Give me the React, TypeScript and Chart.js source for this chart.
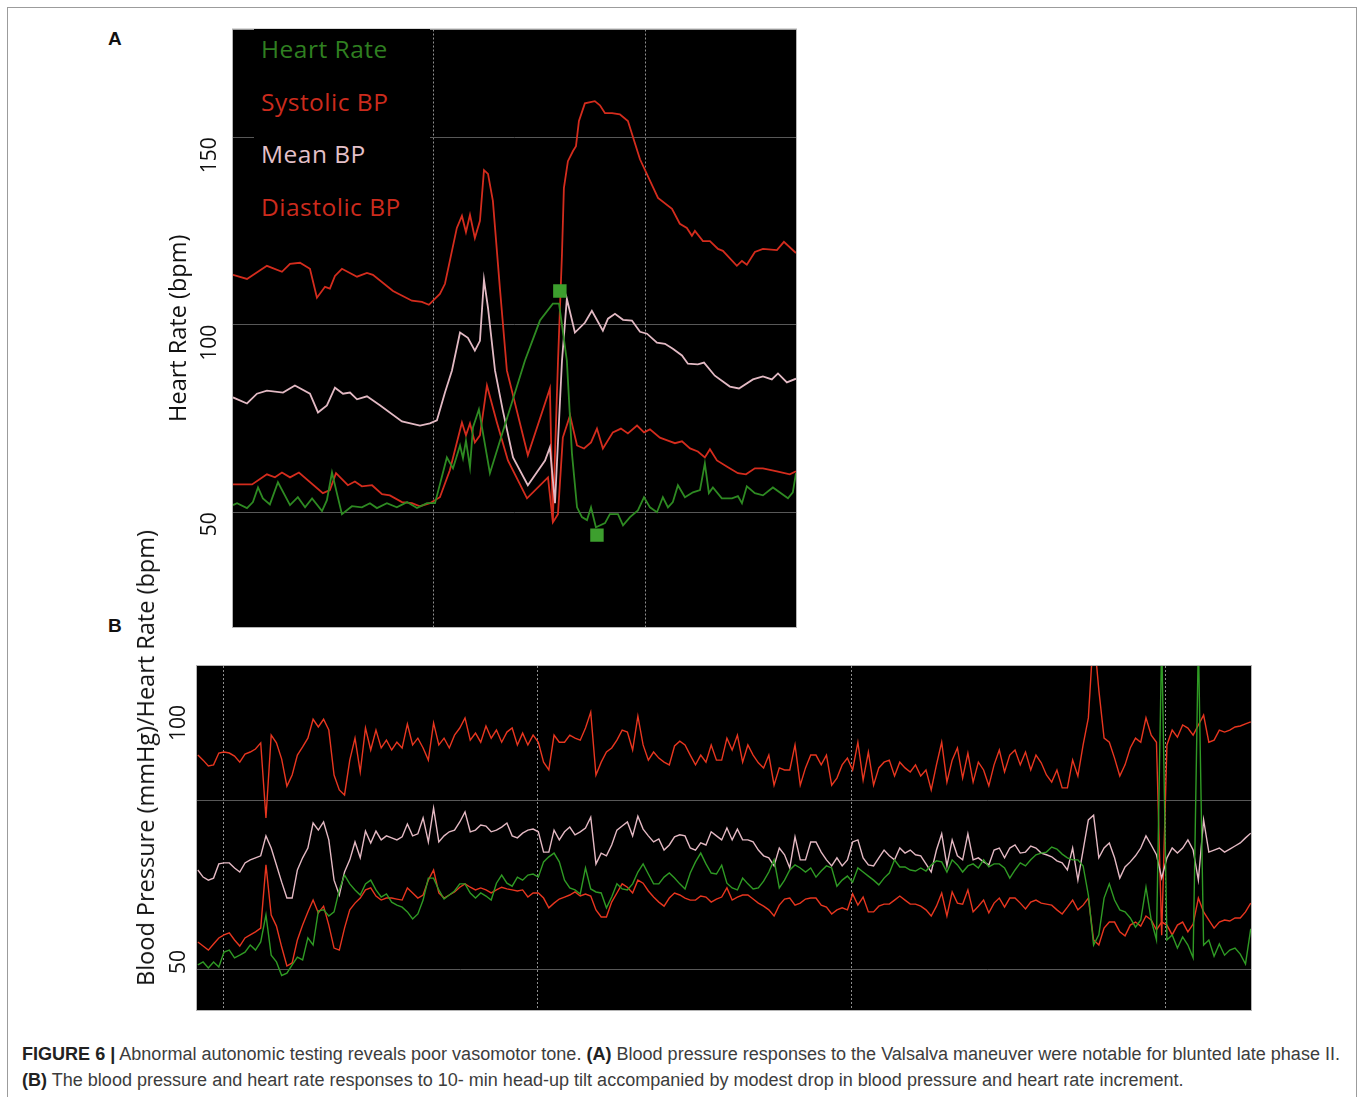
import React, { useEffect, useLayoutEffect, useRef } from 'react';
import { Chart, registerables } from 'chart.js';

Chart.register(...registerables);

// ---------------- Panel A : Valsalva manoeuvre (time in s) ----------------
const aGridTimes = [10, 20];
const aYTicks = [50, 100, 150];

const aSysT = [0.52,1.18,2.12,2.83,3.21,3.68,4.15,4.48,4.86,5.09,5.33,5.66,6.37,6.84,7.12,8.07,8.96,9.43,9.76,10.28,10.52,11.08,11.32,11.51,11.70,11.93,12.17,12.36,12.55,12.78,13.11,13.44,14.43,15.47,15.61,15.85,16.04,16.13,16.32,16.56,16.70,16.84,17.12,17.59,17.83,18.07,18.40,18.77,19.15,19.72,20.57,21.23,21.60,21.93,22.17,22.31,22.69,23.02,23.40,23.63,24.29,24.53,24.76,25.14,25.52,26.18,26.51,27.08];
const aSysV = [113.3,112.2,115.7,114.1,116.2,116.5,114.9,107.2,110.1,109.6,113.0,114.9,112.8,113.8,113.3,109.0,106.4,106.1,105.3,108.2,110.9,125.8,129.0,124.7,129.3,123.1,127.7,141.2,140.2,133.0,109.8,87.8,65.2,83.0,47.9,89.9,118.9,136.4,143.6,146.3,147.6,154.3,159.0,159.6,158.5,156.4,156.4,156.1,154.3,144.1,133.8,130.9,126.9,125.8,123.7,125.0,122.3,122.3,120.2,119.7,115.7,117.0,116.0,119.4,120.2,119.9,122.1,119.1];

const aMeanT = [0.52,1.18,1.65,2.12,2.88,3.44,4.15,4.53,4.95,5.33,5.71,6.04,6.37,6.84,7.45,8.49,9.34,9.81,10.14,10.52,10.85,11.23,11.60,11.93,12.17,12.36,12.55,12.88,13.25,13.73,14.43,15.24,15.47,15.71,16.04,16.27,16.65,17.12,17.45,17.97,18.21,18.54,18.92,19.34,19.72,20.05,20.52,20.90,21.27,21.70,21.98,22.45,22.74,23.25,23.96,24.39,25.05,25.52,25.94,26.23,26.65,27.08];
const aMeanV = [80.6,79.0,81.6,82.4,81.9,83.8,81.6,76.6,78.5,83.2,81.6,81.9,80.1,80.9,78.5,74.2,73.1,73.7,74.5,81.9,87.8,97.9,96.5,93.1,95.7,112.0,104.5,87.8,77.1,64.6,57.2,63.8,67.3,52.4,90.4,106.9,97.9,100.5,103.7,98.4,101.6,102.9,101.3,101.1,98.1,97.6,95.2,94.9,93.6,91.8,89.6,89.4,89.9,86.4,83.5,83.0,85.4,86.2,85.4,87.0,84.6,85.6];

const aDiaT = [0.52,1.42,2.12,2.50,2.83,3.21,3.63,4.76,5.09,5.38,5.94,6.27,6.60,7.08,7.55,7.92,8.49,8.96,9.34,9.81,10.28,10.75,11.32,11.51,11.70,11.93,12.17,12.50,12.97,13.49,14.39,15.38,15.61,15.85,16.08,16.42,16.75,17.08,17.41,17.69,17.97,18.44,18.82,19.15,19.58,19.91,20.19,20.66,21.04,21.37,21.70,22.08,22.45,22.78,23.02,23.35,23.87,24.34,24.72,25.14,25.52,26.18,26.79,27.08];
const aDiaV = [57.4,57.4,60.1,59.3,60.6,59.3,60.6,55.1,55.9,60.4,57.2,58.2,56.9,57.2,54.8,54.5,52.7,52.4,51.6,52.4,54.0,61.2,73.9,70.5,73.7,68.6,70.5,83.8,73.9,63.8,53.7,59.3,47.3,49.5,69.9,75.8,67.8,67.0,68.6,72.3,67.0,71.3,72.3,71.0,73.1,71.3,72.1,69.9,69.1,68.4,68.9,67.0,66.2,64.6,66.8,63.8,62.0,60.4,60.1,61.7,61.7,60.9,60.1,60.9];

const aHrT = [0.52,0.71,1.18,1.46,1.70,1.93,2.26,2.64,3.21,3.58,3.92,4.25,4.72,4.95,5.19,5.42,5.66,6.13,6.60,6.98,7.31,7.78,8.25,8.73,9.20,9.67,10.05,10.61,10.90,11.23,11.37,11.51,11.70,11.84,12.12,12.64,14.29,15.00,15.61,15.90,16.27,16.51,16.75,16.98,17.22,17.41,17.64,18.07,18.30,18.68,18.92,19.25,19.62,19.91,20.19,20.52,20.80,21.04,21.27,21.51,21.84,22.22,22.55,22.78,22.97,23.16,23.58,24.06,24.34,24.53,24.76,25.14,25.52,25.99,26.70,26.93,27.08];
const aHrV = [51.9,52.4,51.1,52.7,56.6,53.7,52.1,58.0,51.9,54.0,51.3,53.7,50.3,53.2,60.6,55.1,49.5,51.6,51.3,52.4,51.1,52.4,51.3,52.7,51.1,52.4,52.4,64.6,61.7,67.8,64.4,69.1,62.0,72.6,77.4,60.4,90.4,101.1,105.6,105.6,90.4,65.7,51.3,48.7,47.9,51.3,46.0,47.1,49.5,49.5,46.5,48.7,50.5,54.0,51.3,50.0,54.0,51.3,52.7,57.2,54.0,55.3,55.9,63.0,55.1,56.6,53.7,53.7,54.3,52.4,56.9,55.1,54.5,56.6,53.7,55.3,60.4];

const aMarkT = [15.94, 17.69];
const aMarkV = [109.0, 43.9];

const legendItems = [
  { text: 'Heart Rate', color: '#2f7f20' },
  { text: 'Systolic BP', color: '#cc2b1d' },
  { text: 'Mean BP', color: '#e4c0c9' },
  { text: 'Diastolic BP', color: '#cc2b1d' },
];

// ---------------- Panel B : head-up tilt (time in s, one sample / 2.5 s) ----------------
const bGridTimes = [150, 300, 450, 600];
const bYGrid = [50, 100];
const bYLabels = [50, 100];
const bStart = 138;
const bStep = 2.5;

const bSystolic = [113.5,112.0,110.3,110.6,114.1,114.4,114.1,113.2,111.4,113.8,
114.4,115.3,117.1,94.9,119.4,117.1,112.3,104.3,107.6,113.5,
115.9,118.5,124.1,121.8,124.1,120.9,107.6,103.2,101.7,112.0,
118.5,108.5,121.5,115.0,120.9,115.6,117.9,115.0,117.3,115.6,
122.7,116.5,118.5,115.6,112.0,123.0,116.5,118.5,115.6,119.4,
121.5,124.5,117.9,120.0,117.3,122.1,118.5,120.9,117.3,120.3,
121.5,116.5,120.0,116.5,119.4,117.3,111.4,109.1,119.4,117.3,
117.3,119.4,118.5,117.9,121.5,126.2,107.6,111.4,114.4,115.6,
117.9,120.9,120.3,115.0,125.0,116.5,112.0,114.4,112.6,111.4,
110.6,116.2,117.6,116.5,113.5,110.6,113.5,111.4,116.5,112.0,
112.0,118.5,115.0,119.4,111.4,116.5,113.5,111.2,109.7,113.5,
104.6,109.7,109.1,109.1,116.5,104.6,109.7,113.5,113.5,110.6,
113.5,104.6,106.7,110.6,112.6,109.1,117.3,106.1,114.4,104.6,
109.7,111.4,112.0,107.3,111.4,109.7,108.5,110.6,107.3,109.1,
103.2,110.6,117.3,105.5,112.0,115.6,106.7,114.1,105.5,111.4,
109.1,104.4,110.6,115.0,108.5,113.5,115.0,110.6,114.4,109.1,
113.5,111.2,107.6,105.5,109.1,103.8,103.8,112.0,107.3,116.5,
124.5,150.0,132.7,118.5,117.3,112.6,107.3,110.6,115.6,118.5,
117.3,124.5,119.4,117.3,60.2,116.5,120.9,118.8,122.4,121.5,
119.4,122.4,125.3,117.3,117.9,120.9,120.3,120.9,121.8,122.1,
122.7,123.3];

const bMean = [79.5,77.4,76.5,77.1,81.3,81.6,81.6,80.1,78.9,81.6,
82.5,83.1,83.7,89.6,86.0,81.0,75.9,71.2,71.2,79.5,
83.1,86.0,93.4,91.3,93.7,88.4,76.5,72.1,78.9,82.5,
87.8,83.1,91.0,87.5,91.0,88.4,89.6,89.0,88.4,89.3,
93.1,89.6,90.2,94.9,87.8,97.8,87.8,89.6,90.8,91.3,
93.7,96.7,90.8,91.3,92.8,92.5,90.8,91.3,92.2,93.4,
89.6,89.0,90.4,91.3,91.6,90.8,84.8,84.8,91.3,88.4,
90.8,92.2,89.9,90.8,91.9,95.1,81.3,84.5,83.7,86.9,
91.3,92.5,93.7,89.6,95.4,91.6,89.6,87.8,88.7,85.4,
86.9,89.3,89.9,89.6,86.0,85.4,87.5,86.9,90.8,89.6,
88.4,91.9,88.4,91.6,88.4,88.4,87.8,85.4,83.7,83.1,
80.7,86.0,84.0,80.1,89.3,82.5,82.5,87.8,87.8,84.8,
82.5,80.7,83.1,80.7,82.5,87.8,88.4,83.1,81.0,80.7,
83.1,85.4,83.7,82.5,86.0,84.5,85.4,84.0,83.7,81.3,
78.9,85.4,90.2,80.7,88.4,83.7,82.5,90.2,82.5,83.1,
81.9,81.0,85.4,86.0,83.1,86.0,86.9,84.5,84.8,86.6,
86.0,84.5,84.0,83.4,82.2,81.6,79.5,86.0,76.5,85.4,
94.3,95.7,83.1,86.0,87.5,83.1,77.1,80.4,81.9,83.7,
86.0,89.6,86.9,84.0,77.1,83.1,86.0,84.5,86.0,88.4,
85.4,76.5,94.3,84.8,85.4,86.0,84.8,85.7,86.6,87.5,
89.0,90.4];

const bDiastolic = [58.2,57.0,55.8,57.6,59.4,60.3,60.9,58.8,57.0,59.4,
60.3,61.2,62.3,81.0,66.2,62.9,56.7,51.1,52.0,58.8,
63.2,67.1,70.6,66.8,68.8,63.2,56.4,55.8,62.3,67.7,
69.7,71.2,73.6,74.2,71.8,70.6,71.2,71.2,70.9,70.6,
74.2,72.7,71.2,72.1,76.5,79.5,72.7,71.2,72.1,73.0,
74.4,75.4,74.4,73.6,74.2,73.6,72.7,73.6,74.4,73.9,
73.6,73.3,73.6,71.5,72.7,72.7,71.2,68.3,69.7,70.9,
71.5,72.1,73.0,71.8,72.4,71.8,67.7,65.6,65.6,70.0,
72.7,75.4,74.4,72.7,76.5,75.6,73.3,71.5,70.0,68.8,
71.2,72.7,72.1,71.2,70.6,70.6,71.8,71.5,70.0,70.9,
71.5,74.2,70.6,71.5,72.1,72.1,70.9,69.7,68.8,67.7,
65.9,69.1,70.9,71.2,69.1,69.7,70.9,71.2,71.2,69.1,
68.5,66.5,67.7,68.3,67.7,72.4,69.1,71.5,67.1,67.1,
68.8,69.4,69.4,70.6,71.8,70.6,69.4,69.4,68.8,67.7,
65.9,68.8,72.7,65.9,73.0,69.7,69.4,73.6,67.1,68.8,
70.6,66.8,69.7,71.2,68.5,71.2,71.2,69.7,68.0,70.0,
70.6,69.7,69.4,69.1,67.7,66.5,68.5,70.6,67.7,69.1,
71.2,58.8,57.3,62.3,64.1,64.1,61.2,60.0,63.2,64.1,
62.9,65.9,64.7,61.8,64.1,63.2,60.3,63.2,64.1,61.2,
63.5,71.2,67.1,64.7,62.3,64.1,64.7,64.4,65.3,65.3,
67.1,69.7];

const bHeartRate = [51.4,52.3,50.5,52.3,50.8,55.2,55.8,53.5,54.3,55.2,
57.3,55.8,58.2,66.2,54.3,52.3,48.3,49.0,51.4,53.7,
52.9,59.4,57.3,67.4,67.7,65.9,67.1,73.6,78.0,75.4,
73.6,72.1,75.4,76.5,73.6,71.5,72.4,70.0,69.1,68.5,
67.1,65.0,66.5,70.6,77.1,77.1,73.6,70.9,72.1,73.3,
75.4,75.4,72.7,71.2,72.7,71.8,70.6,75.6,78.0,75.6,
74.7,77.4,76.5,78.0,78.3,77.4,81.9,83.4,84.5,81.9,
76.5,74.2,73.6,72.4,80.1,73.9,73.0,72.7,68.3,71.5,
75.4,73.9,73.6,75.4,78.9,81.3,78.3,75.4,75.4,77.4,
78.6,77.1,75.4,73.9,78.6,81.9,84.5,81.3,78.6,78.3,
80.9,75.6,74.2,73.6,77.1,75.4,73.9,74.2,76.2,78.9,
82.5,74.2,76.5,79.5,81.0,80.1,78.9,80.1,77.4,79.2,
80.7,80.1,74.7,76.5,77.7,75.9,80.1,78.9,77.7,76.5,
75.1,77.1,78.6,82.5,80.4,80.4,79.5,79.2,80.1,79.2,
81.0,82.2,81.9,78.9,82.5,81.0,78.9,80.7,81.3,80.1,
82.5,80.4,81.3,81.3,80.1,77.1,79.5,81.6,80.7,82.5,
84.0,84.5,84.8,86.3,85.7,84.2,83.1,82.5,82.5,80.7,
72.1,57.3,60.3,71.2,75.4,70.6,67.7,67.1,65.3,62.6,
64.7,74.4,64.7,58.8,147.5,58.8,60.3,56.4,59.7,57.3,
53.5,147.5,57.3,58.8,54.0,57.6,54.3,55.8,56.4,54.6,
51.7,62.1];

// ---------------- helpers ----------------
const FONT = "'Open Sans', 'DejaVu Sans', sans-serif";
const A_RED = '#d42c1d';
const A_PINK = '#e2b9c3';
const A_GREEN = '#2e8a22';
const B_RED = '#e8361f';
const B_PINK = '#e4b9c3';
const B_GREEN = '#2f9a24';

const toXY = (t: number[], v: number[]) => t.map((x, i) => ({ x, y: v[i] }));
const bTimes = bSystolic.map((_, i) => bStart + bStep * i);

const lineSet = (label: string, data: any[], color: string, width: number) => ({
  label,
  data,
  borderColor: color,
  backgroundColor: color,
  borderWidth: width,
  pointRadius: 0,
  tension: 0,
  fill: false,
});

const fixedTicks = (values: number[]) => (scale: any) => {
  scale.ticks = values.map((value) => ({ value }));
};

const fixWidth = (w: number) => (scale: any) => {
  scale.width = w;
  scale.paddingTop = 0;
  scale.paddingBottom = 0;
  scale.paddingLeft = 0;
  scale.paddingRight = 0;
};

const plotFrame = {
  id: 'plotFrame',
  beforeDraw(chart: any) {
    const { ctx, chartArea } = chart;
    ctx.save();
    ctx.fillStyle = '#000';
    ctx.fillRect(chartArea.left, chartArea.top, chartArea.right - chartArea.left, chartArea.bottom - chartArea.top);
    ctx.restore();
  },
  afterDraw(chart: any) {
    const { ctx, chartArea } = chart;
    ctx.save();
    ctx.strokeStyle = '#b4b4b4';
    ctx.lineWidth = 1;
    ctx.strokeRect(chartArea.left - 0.5, chartArea.top - 0.5, chartArea.right - chartArea.left + 1, chartArea.bottom - chartArea.top + 1);
    ctx.restore();
  },
};

function PanelA() {
  const ref = useRef<HTMLCanvasElement>(null);
  useEffect(() => {
    const chart = new Chart(ref.current as HTMLCanvasElement, {
      type: 'line',
      data: {
        datasets: [
          {
            label: 'HR events',
            data: toXY(aMarkT, aMarkV),
            showLine: false,
            pointStyle: 'rect',
            pointRadius: 9.5,
            pointBackgroundColor: '#3d9f2e',
            pointBorderWidth: 0,
            borderWidth: 0,
          } as any,
          lineSet('Heart Rate', toXY(aHrT, aHrV), A_GREEN, 1.8),
          lineSet('Mean BP', toXY(aMeanT, aMeanV), A_PINK, 1.8),
          lineSet('Systolic BP', toXY(aSysT, aSysV), A_RED, 1.8),
          lineSet('Diastolic BP', toXY(aDiaT, aDiaV), A_RED, 1.8),
        ],
      },
      options: {
        responsive: false,
        animation: false,
        events: [],
        layout: { padding: { left: 0, top: 8, right: 14, bottom: 13 } },
        plugins: { legend: { display: false }, tooltip: { enabled: false } },
        scales: {
          x: {
            type: 'linear',
            bounds: 'data',
            min: 0.52,
            max: 27.08,
            afterBuildTicks: fixedTicks(aGridTimes),
            afterFit: (s: any) => { s.height = 0; s.paddingLeft = 0; s.paddingRight = 0; },
            ticks: { display: false },
            grid: { color: '#8e8e8e', lineWidth: 1, drawTicks: false },
            border: { display: false, dash: [2, 2] },
          },
          y: {
            type: 'linear',
            bounds: 'data',
            min: 19.4,
            max: 178.7,
            afterBuildTicks: fixedTicks(aYTicks),
            afterFit: fixWidth(83),
            ticks: { color: '#111', font: { family: FONT, size: 21 }, minRotation: 90, maxRotation: 90, padding: 23 },
            grid: { color: '#585858', lineWidth: 1, drawTicks: false },
            border: { display: false },
            title: {
              display: true,
              text: 'Heart Rate (bpm)',
              color: '#111',
              font: { family: FONT, size: 23.5 },
              padding: { top: 15, bottom: 0 },
            },
          },
        },
      } as any,
      plugins: [plotFrame],
    });
    return () => chart.destroy();
  }, []);
  return <canvas ref={ref} width={660} height={620} style={{ position: 'absolute', left: 150, top: 20 }} />;
}

function PanelB() {
  const ref = useRef<HTMLCanvasElement>(null);
  useEffect(() => {
    const chart = new Chart(ref.current as HTMLCanvasElement, {
      type: 'line',
      data: {
        datasets: [
          lineSet('Heart Rate', toXY(bTimes, bHeartRate), B_GREEN, 1.4),
          lineSet('Mean BP', toXY(bTimes, bMean), B_PINK, 1.4),
          lineSet('Systolic BP', toXY(bTimes, bSystolic), B_RED, 1.4),
          lineSet('Diastolic BP', toXY(bTimes, bDiastolic), B_RED, 1.4),
        ],
      },
      options: {
        responsive: false,
        animation: false,
        events: [],
        layout: { padding: { left: 0, top: 16, right: 19, bottom: 10 } },
        plugins: { legend: { display: false }, tooltip: { enabled: false } },
        scales: {
          x: {
            type: 'linear',
            bounds: 'data',
            min: 137.59,
            max: 640.62,
            afterBuildTicks: fixedTicks(bGridTimes),
            afterFit: (s: any) => { s.height = 0; s.paddingLeft = 0; s.paddingRight = 0; },
            ticks: { display: false },
            grid: { color: '#8e8e8e', lineWidth: 1, drawTicks: false },
            border: { display: false, dash: [2, 2] },
          },
          y: {
            type: 'linear',
            position: 'left',
            bounds: 'data',
            min: 38.08,
            max: 139.85,
            afterBuildTicks: fixedTicks(bYGrid),
            afterFit: fixWidth(0),
            ticks: { display: false },
            grid: { color: '#585858', lineWidth: 1, drawTicks: false },
            border: { display: false },
          },
          yLabel: {
            type: 'linear',
            position: 'left',
            bounds: 'data',
            min: 37.76,
            max: 107.96,
            afterBuildTicks: fixedTicks(bYLabels),
            afterFit: fixWidth(37),
            ticks: { color: '#111', font: { family: FONT, size: 21 }, minRotation: 90, maxRotation: 90, padding: 18 },
            grid: { display: false, drawTicks: false },
            border: { display: false },
          },
        },
      } as any,
      plugins: [plotFrame],
    });
    return () => chart.destroy();
  }, []);
  return <canvas ref={ref} width={1110} height={370} style={{ position: 'absolute', left: 160, top: 650 }} />;
}

export default function App() {
  const line1 = useRef<HTMLSpanElement>(null);
  const line2 = useRef<HTMLSpanElement>(null);
  useLayoutEffect(() => {
    if (!line1.current || !line2.current) return;
    const w = line1.current.getBoundingClientRect().width;
    const k = w > 0 ? 1318 / w : 1;
    line1.current.style.transform = `scaleX(${k})`;
    line2.current.style.transform = `scaleX(${k})`;
  }, []);

  const capStyle: React.CSSProperties = { display: 'inline-block', transformOrigin: '0 0', whiteSpace: 'nowrap' };

  return (
    <div style={{ position: 'absolute', left: 0, top: 0, width: 1360, height: 1097, overflow: 'hidden', background: '#fff' }}>
      <div style={{ position: 'absolute', left: 7, top: 7, width: 1348, height: 1100, border: '1px solid #9c9c9c', borderBottom: 'none' }} />

      <div style={{ position: 'absolute', left: 108, top: 28.5, font: "bold 19px 'Liberation Sans', Arial, sans-serif", color: '#111', lineHeight: '19px' }}>A</div>
      <div style={{ position: 'absolute', left: 108, top: 615.5, font: "bold 19px 'Liberation Sans', Arial, sans-serif", color: '#111', lineHeight: '19px' }}>B</div>

      <PanelA />
      <div style={{ position: 'absolute', left: 254, top: 29, width: 176, height: 206, background: '#000' }}>
        {legendItems.map((it, i) => (
          <div
            key={it.text}
            style={{
              position: 'absolute',
              left: 7,
              top: 8 + i * 52.5,
              color: it.color,
              fontFamily: FONT,
              fontSize: 24.5,
              letterSpacing: 0.5,
              lineHeight: '24.5px',
              whiteSpace: 'nowrap',
            }}
          >
            {it.text}
          </div>
        ))}
      </div>

      <PanelB />
      <div
        style={{
          position: 'absolute',
          left: 145,
          top: 758,
          transform: 'translate(-50%, -50%) rotate(-90deg)',
          fontFamily: FONT,
          fontSize: 23.5,
          color: '#111',
          whiteSpace: 'nowrap',
          lineHeight: '28px',
        }}
      >
        Blood Pressure (mmHg)/Heart Rate (bpm)
      </div>

      <div style={{ position: 'absolute', left: 22, top: 1041, fontFamily: "'Liberation Sans', Arial, sans-serif", fontSize: 18, color: '#3c3c3c', lineHeight: '26px' }}>
        <span ref={line1} style={capStyle}>
          <b style={{ color: '#222' }}>FIGURE 6 |</b> Abnormal autonomic testing reveals poor vasomotor tone. <b style={{ color: '#222' }}>(A)</b> Blood pressure responses to the Valsalva maneuver were notable for blunted late phase II.
        </span>
        <br />
        <span ref={line2} style={capStyle}>
          <b style={{ color: '#222' }}>(B)</b> The blood pressure and heart rate responses to 10- min head-up tilt accompanied by modest drop in blood pressure and heart rate increment.
        </span>
      </div>
    </div>
  );
}
